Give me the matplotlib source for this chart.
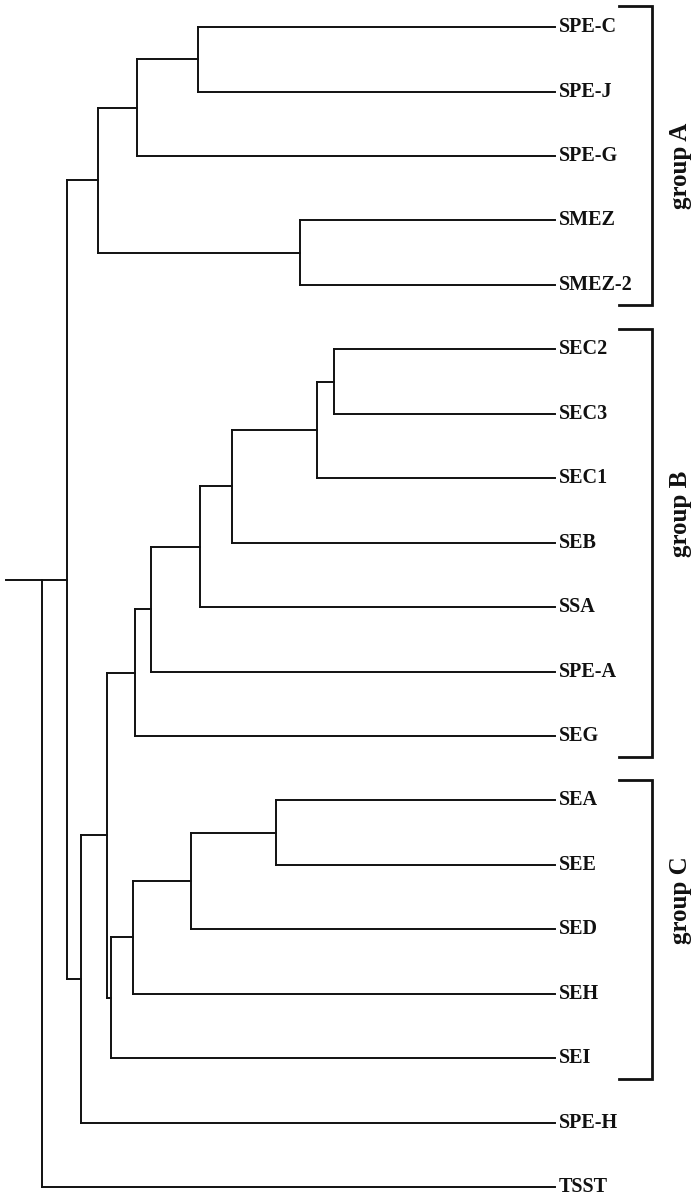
import matplotlib
matplotlib.use("Agg")
import matplotlib.pyplot as plt

# ---- data ----
leaves = ["SPE-C", "SPE-J", "SPE-G", "SMEZ", "SMEZ-2", "SEC2", "SEC3", "SEC1",
          "SEB", "SSA", "SPE-A", "SEG", "SEA", "SEE", "SED", "SEH", "SEI",
          "SPE-H", "TSST"]
node_names = ["CJ", "CJG", "MEZ", "A", "B5", "B4", "B3", "B2", "B1", "B",
              "C3", "C2", "C1", "C", "BC", "BCH", "IN", "ROOT"]
node_children = [("SPE-C", "SPE-J"), ("CJ", "SPE-G"), ("SMEZ", "SMEZ-2"),
                 ("CJG", "MEZ"), ("SEC2", "SEC3"), ("B5", "SEC1"),
                 ("B4", "SEB"), ("B3", "SSA"), ("B2", "SPE-A"), ("B1", "SEG"),
                 ("SEA", "SEE"), ("C3", "SED"), ("C2", "SEH"), ("C1", "SEI"),
                 ("B", "C"), ("BC", "SPE-H"), ("A", "BCH"), ("IN", "TSST")]
node_depth = [192, 131, 294, 92, 328, 311, 226, 194, 145, 129,
              270, 185, 127, 105, 101, 75, 61, 36]
leaf_depth = 549
groups = ["group A", "group B", "group C"]
group_first = ["SPE-C", "SEC2", "SEA"]
group_last = ["SMEZ-2", "SEG", "SEI"]

# label nudges (layout only, leaf units)
group_label_shift = [0.15, -0.45, -0.45]

# ---- figure ----
fig = plt.figure(figsize=(6.96, 12), dpi=100)
ax = fig.add_axes([0, 0, 1, 1])
ax.set_xlim(-6, 690)
ax.set_ylim(18.2, -0.42)
ax.axis("off")

LW = 1.4
col = "#111111"
depth = {n: leaf_depth for n in leaves}
ypos = {n: i for i, n in enumerate(leaves)}
children = {}
for n, ch, d in zip(node_names, node_children, node_depth):
    depth[n] = d
    children[n] = ch


def place(n):
    if n in ypos:
        return ypos[n]
    ys = [place(c) for c in children[n]]
    ypos[n] = ys[0] if n == "ROOT" else sum(ys) / len(ys)
    return ypos[n]


place("ROOT")
for n in node_names:
    ys = [ypos[c] for c in children[n]]
    ax.plot([depth[n], depth[n]], [min(ys), max(ys)], color=col, lw=LW,
            solid_capstyle="projecting")
    for c in children[n]:
        ax.plot([depth[n], depth[c]], [ypos[c], ypos[c]], color=col, lw=LW,
                solid_capstyle="projecting")
# root stub
ax.plot([0, depth["ROOT"]], [ypos["ROOT"]] * 2, color=col, lw=LW)

font = dict(family=["Liberation Serif", "DejaVu Serif"], weight="bold")
for n in leaves:
    ax.text(leaf_depth + 4, ypos[n], n, va="center", ha="left",
            fontsize=14.5, color=col, **font)

# brackets
bx = 646
for g, f, l, s in zip(groups, group_first, group_last, group_label_shift):
    y0 = ypos[f] - 0.32
    y1 = ypos[l] + 0.32
    ax.plot([bx - 33, bx, bx, bx - 33], [y0, y0, y1, y1], color=col, lw=2.0,
            solid_joinstyle="miter")
    ax.text(bx + 29, (y0 + y1) / 2 + s, g, rotation=90, va="center",
            ha="center", fontsize=18, color=col, **font)

fig.savefig("out.png", dpi=100)
